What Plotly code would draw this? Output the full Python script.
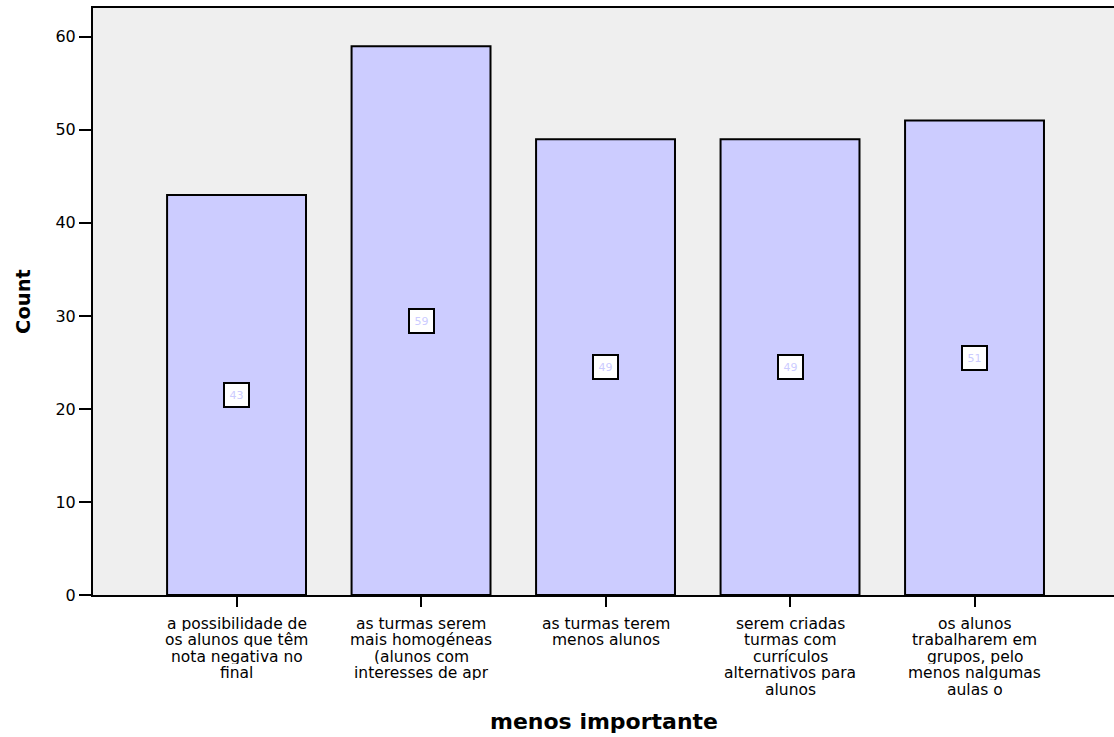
import plotly.graph_objects as go

categories = [
    ["a possibilidade de", "os alunos que têm", "nota negativa no", "final"],
    ["as turmas serem", "mais homogéneas", "(alunos com", "interesses de apr"],
    ["as turmas terem", "menos alunos"],
    ["serem criadas", "turmas com", "currículos", "alternativos para", "alunos"],
    ["os alunos", "trabalharem em", "grupos, pelo", "menos nalgumas", "aulas o"],
]
counts = [43, 59, 49, 49, 51]
y_ticks = [0, 10, 20, 30, 40, 50, 60]

FONT = "DejaVu Sans, Verdana, sans-serif"
BAR_FILL = "#ccccff"
LINE_STEP = 16.6  # px between lines of a category label

positions = list(range(len(categories)))

fig = go.Figure()
fig.add_trace(go.Bar(
    x=positions,
    y=counts,
    width=0.753,
    marker=dict(color=BAR_FILL, line=dict(color="black", width=2)),
    hoverinfo="skip",
))

# value boxes centred halfway up each bar
for xi, v in zip(positions, counts):
    fig.add_annotation(
        x=xi, y=v / 2, text=str(v), showarrow=False,
        font=dict(family=FONT, size=11, color=BAR_FILL),
        bgcolor="white", bordercolor="black", borderwidth=2,
        width=21, height=20, borderpad=1,
    )

# category labels, one line at a time for tight line spacing
for xi, lines in zip(positions, categories):
    for k, line in enumerate(lines):
        fig.add_annotation(
            x=xi, xref="x", y=0, yref="paper",
            yanchor="middle", xanchor="center",
            yshift=-(28 + k * LINE_STEP),
            height=15, borderpad=0,
            text=line, showarrow=False,
            font=dict(family=FONT, size=15.5, color="black"),
        )

fig.add_annotation(
    x=0.5, xref="paper", y=0, yref="paper", yanchor="middle",
    yshift=-126, text="<b>menos importante</b>", showarrow=False,
    font=dict(family=FONT, size=22, color="black"),
)

fig.update_layout(
    width=1114, height=737,
    margin=dict(l=93, r=0, t=8, b=142),
    paper_bgcolor="white",
    plot_bgcolor="#efefef",
    showlegend=False,
    font=dict(family=FONT, size=16, color="black"),
    xaxis=dict(
        tickmode="array", tickvals=positions, showticklabels=False,
        range=[-0.778, 4.756],
        showline=True, linecolor="black", linewidth=2, mirror=True,
        ticks="outside", ticklen=10, tickwidth=2, tickcolor="black",
        showgrid=False, zeroline=False,
    ),
    yaxis=dict(
        tickmode="array", tickvals=y_ticks,
        range=[0, 63.1],
        showline=True, linecolor="black", linewidth=2,
        ticks="outside", ticklen=12, tickwidth=2, tickcolor="black",
        showgrid=False, zeroline=False,
        tickfont=dict(family=FONT, size=16),
        title=dict(text="<b>Count</b>", font=dict(family=FONT, size=19.5), standoff=20),
    ),
)

fig.write_html("out.html")
